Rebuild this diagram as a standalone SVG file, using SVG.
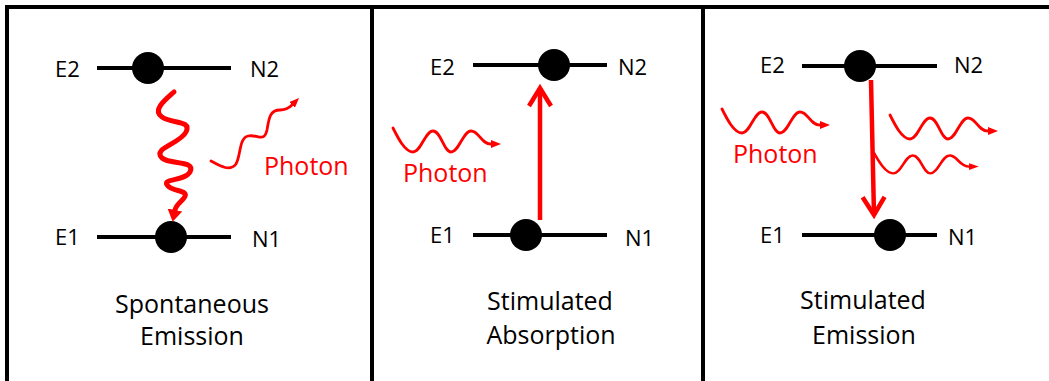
<svg xmlns="http://www.w3.org/2000/svg" width="1049" height="381" viewBox="0 0 1049 381">
<style>
.frame{stroke:#000;stroke-width:4;fill:none}
.lvl{stroke:#000;stroke-width:4}
.el{fill:#000}
.lbl{font-family:"Open Sans","Liberation Sans",sans-serif;font-size:22px;fill:#000}
.cap{font-family:"Open Sans","Liberation Sans",sans-serif;font-size:25px;fill:#000;text-anchor:middle}
.ph{font-family:"Open Sans","Liberation Sans",sans-serif;font-size:25px;fill:#ff0000}
.wave{fill:none;stroke:#ff0000;stroke-width:2.8;stroke-linecap:round}
.spring{fill:none;stroke:#ff0000;stroke-width:5;stroke-linecap:round}
.tr{fill:none;stroke:#ff0000;stroke-width:4.5}
</style>
<defs>
<marker id="tri" markerUnits="userSpaceOnUse" viewBox="0 0 10 8" refX="0" refY="4" markerWidth="10" markerHeight="8" orient="auto">
<path d="M0,0 L10,4 L0,8 z" fill="#ff0000"/>
</marker>
<marker id="trib" markerUnits="userSpaceOnUse" viewBox="0 0 12 15" refX="0" refY="7.5" markerWidth="12" markerHeight="15" orient="auto">
<path d="M0,0 L12,7.5 L0,15 z" fill="#ff0000"/>
</marker>
<marker id="chev" markerUnits="userSpaceOnUse" viewBox="-22 -14 28 28" refX="0" refY="0" markerWidth="28" markerHeight="28" orient="auto">
<path d="M-18,-11 L0,0 L-18,11" fill="none" stroke="#ff0000" stroke-width="4.5"/>
</marker>
</defs>
<rect width="1049" height="381" fill="#fff"/>
<g id="frame" class="frame">
<path d="M7,381 L7,7 L1049,7"/>
<path d="M372,7 L372,381"/>
<path d="M703,7 L703,381"/>
</g>
<g id="panel1">
<g id="p1-E2">
<line class="lvl" x1="97" y1="68" x2="231" y2="68"/>
<circle class="el" cx="148" cy="68" r="16"/>
<text class="lbl" x="55" y="77">E2</text>
<text class="lbl" x="250" y="77">N2</text>
</g>
<g id="p1-E1">
<line class="lvl" x1="97" y1="237" x2="231" y2="237"/>
<circle class="el" cx="171" cy="237" r="16"/>
<text class="lbl" x="55" y="245">E1</text>
<text class="lbl" x="252" y="247">N1</text>
</g>
<g id="p1-photon"><text class="ph" x="264" y="175">Photon</text></g>
<g id="p1-caption">
<text class="cap" x="192" y="313">Spontaneous</text>
<text class="cap" x="192" y="345">Emission</text>
</g>
</g>
<g id="panel2">
<g id="p2-E2">
<line class="lvl" x1="473" y1="65" x2="607" y2="65"/>
<circle class="el" cx="554" cy="65" r="16"/>
<text class="lbl" x="430" y="75">E2</text>
<text class="lbl" x="618" y="75">N2</text>
</g>
<g id="p2-E1">
<line class="lvl" x1="473" y1="235" x2="607" y2="235"/>
<circle class="el" cx="526" cy="235" r="16"/>
<text class="lbl" x="430" y="243">E1</text>
<text class="lbl" x="625" y="246">N1</text>
</g>
<g id="p2-photon"><text class="ph" x="403" y="182">Photon</text></g>
<g id="p2-caption">
<text class="cap" x="550" y="310">Stimulated</text>
<text class="cap" x="551" y="344">Absorption</text>
</g>
</g>
<g id="panel3">
<g id="p3-E2">
<line class="lvl" x1="802" y1="66" x2="937" y2="66"/>
<circle class="el" cx="860" cy="66" r="16"/>
<text class="lbl" x="760" y="73">E2</text>
<text class="lbl" x="954" y="73">N2</text>
</g>
<g id="p3-E1">
<line class="lvl" x1="802" y1="235" x2="937" y2="235"/>
<circle class="el" cx="890" cy="235" r="16"/>
<text class="lbl" x="760" y="243">E1</text>
<text class="lbl" x="948" y="245">N1</text>
</g>
<g id="p3-photon"><text class="ph" x="733" y="163">Photon</text></g>
<g id="p3-caption">
<text class="cap" x="863" y="309">Stimulated</text>
<text class="cap" x="864" y="344">Emission</text>
</g>
</g>
<g id="connectors">
<path class="spring" marker-end="url(#trib)" d="M174,92 C165,100 152,110 162,117 C172,124 192,120 186,132 C180,144 152,148 162,158 C170,165 196,160 190,172 C184,182 160,178 168,186 C174,192 190,190 184,198 C180,203 176,205 175,210"/>
<path class="wave" marker-end="url(#tri)" d="M211,161 C220,166 230,172 236,164 C241,155 239,138 248,136 C258,134 264,143 267,130 C269,118 270,110 280,110 C286,110 290,107 292,105"/>
<path class="tr" marker-end="url(#chev)" d="M540,220 L540,88"/>
<path class="wave" marker-end="url(#tri)" transform="translate(393,128)" d="M0,0 C5,10 12,24 20,24 C28,24 32,3 40,3 C48,3 51,24 58,24 C66,24 70,3 78,3 C86,3 88,16 98,16"/>
<path class="tr" marker-end="url(#chev)" d="M871,80 L874,215"/>
<path class="wave" marker-end="url(#tri)" transform="translate(722,109)" d="M0,0 C5,10 12,24 20,24 C28,24 32,3 40,3 C48,3 51,24 58,24 C66,24 70,3 78,3 C86,3 88,16 98,16"/>
<path class="wave" marker-end="url(#tri)" transform="translate(890,115)" d="M0,0 C5,10 12,24 20,24 C28,24 32,3 40,3 C48,3 51,24 58,24 C66,24 70,3 78,3 C86,3 88,16 98,16"/>
<path class="wave" marker-end="url(#tri)" transform="translate(874,153) scale(0.97,0.85)" d="M0,0 C5,10 12,24 20,24 C28,24 32,3 40,3 C48,3 51,24 58,24 C66,24 70,3 78,3 C86,3 88,16 98,16"/>
</g>
</svg>
